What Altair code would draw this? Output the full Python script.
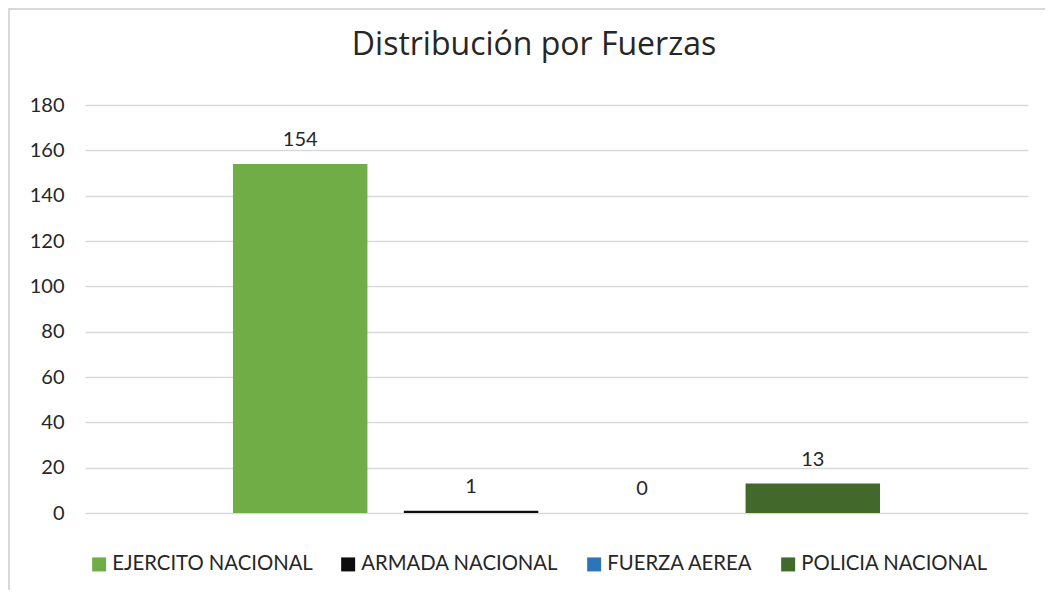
import altair as alt
import pandas as pd

series = ["EJERCITO NACIONAL", "ARMADA NACIONAL", "FUERZA AEREA", "POLICIA NACIONAL"]
values = [154, 1, 0, 13]
colors = ["#70AD47", "#0D0D0D", "#2E75B6", "#43682B"]
y_ticks = [0, 20, 40, 60, 80, 100, 120, 140, 160, 180]

df = pd.DataFrame({"Fuerza": series, "Valor": values})

FONT = "Lato"
TXT = "#262626"

x_enc = alt.X("Fuerza:N", sort=series,
              scale=alt.Scale(paddingInner=0.213, paddingOuter=0.866),
              axis=None)

bars = alt.Chart(df).mark_bar(stroke=None).encode(
    x=x_enc,
    y=alt.Y("Valor:Q", scale=alt.Scale(domain=[0, 180], nice=False),
            axis=alt.Axis(values=y_ticks, title=None, domain=False, ticks=False,
                          labelPadding=21, labelFontSize=20, labelFont=FONT,
                          labelColor=TXT, gridColor="#D9D9D9", gridWidth=1.3)),
    color=alt.Color("Fuerza:N", sort=series,
                    scale=alt.Scale(domain=series, range=colors),
                    legend=alt.Legend(orient="none", legendX=4, legendY=449,
                                      direction="horizontal", title=None,
                                      symbolType="square", symbolSize=196,
                                      symbolStrokeWidth=0, labelFontSize=20.3,
                                      labelFont=FONT, labelColor=TXT,
                                      labelLimit=0,
                                      labelOffset=3, columnPadding=25)),
)

labels = alt.Chart(df).mark_text(dy=-18, baseline="alphabetic", fontSize=20,
                                 font=FONT, color=TXT).encode(
    x=x_enc,
    y=alt.Y("Valor:Q"),
    text=alt.Text("Valor:Q"),
)

frame = alt.Chart(alt.Data(values=[{}])).mark_rect(
    fill=None, fillOpacity=0, stroke="#D9D9D9", strokeWidth=2
).encode(
    x=alt.value(-76), x2=alt.value(1200), y=alt.value(-96), y2=alt.value(800)
)

chart = alt.layer(frame, bars, labels).properties(
    width=943, height=408,
    title=alt.TitleParams("Distribución por Fuerzas", fontSize=32, font="Open Sans",
                          color=TXT, fontWeight="normal", anchor="middle",
                          frame="group",
                          baseline="alphabetic", offset=-79, dx=-22.5),
    autosize=alt.AutoSizeParams(type="none"),
    padding={"left": 77, "top": 97, "right": 17, "bottom": 77},
).configure_view(stroke=None)

chart.save("out.html", embed_options={"renderer": "svg", "actions": False})
